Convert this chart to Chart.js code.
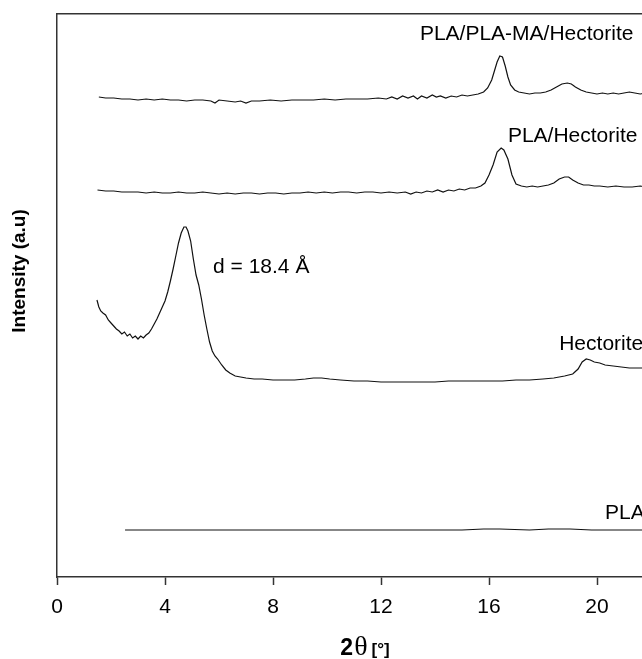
<!DOCTYPE html>
<html>
<head>
<meta charset="utf-8">
<title>XRD patterns</title>
<script src="https://cdn.jsdelivr.net/npm/chart.js@4.4.1/dist/chart.umd.min.js"></script>
<style>
    html, body { margin: 0; padding: 0; background: #fff; }
    #wrap { width: 642px; height: 659px; overflow: hidden; }
</style>
</head>
<body>
<div id="wrap">
    <canvas id="xrdChart" width="690" height="659"></canvas>
</div>
<script>
// 2-theta tick labels on the bottom axis
const tickAngles = [0, 4, 8, 12, 16, 20];

// PLA/PLA-MA/Hectorite
const plaMaAngle = [1.55, 1.8, 2.1, 2.4, 2.7, 3.0, 3.3, 3.6, 3.9, 4.2, 4.5, 4.8, 5.1, 5.4, 5.7, 5.85, 6.0, 6.3, 6.6, 6.8, 7.0, 7.2, 7.5, 7.9, 8.3, 8.7, 9.1, 9.5, 9.9, 10.3, 10.7, 11.1, 11.5, 11.9, 12.2, 12.4, 12.6, 12.8, 13.0, 13.2, 13.35, 13.5, 13.7, 13.9, 14.05, 14.2, 14.4, 14.6, 14.8, 15.0, 15.2, 15.4, 15.6, 15.8, 15.95, 16.1, 16.2, 16.3, 16.4, 16.5, 16.6, 16.7, 16.8, 16.95, 17.1, 17.3, 17.5, 17.7, 17.9, 18.1, 18.3, 18.5, 18.7, 18.9, 19.05, 19.2, 19.4, 19.6, 19.8, 20.0, 20.2, 20.4, 20.6, 20.8, 21.0, 21.2, 21.4, 21.6, 21.8];
const plaMaCounts = [480, 479, 479, 478, 478, 477, 478, 477, 478, 477, 477, 476, 477, 477, 476, 474, 477, 476, 475, 476, 474, 476, 476, 477, 476, 477, 477, 477, 478, 477, 478, 478, 478, 479, 478, 480, 478, 481, 479, 481, 478, 481, 479, 482, 480, 481, 479, 481, 480, 482, 481, 482, 483, 485, 489, 497, 506, 515, 521, 520, 511, 500, 492, 487, 485, 484, 483, 484, 484, 485, 487, 490, 493, 494, 493, 490, 487, 485, 484, 483, 484, 483, 484, 483, 484, 485, 484, 483, 484];

// PLA/Hectorite
const plaHecAngle = [1.5, 1.8, 2.1, 2.4, 2.7, 3.0, 3.3, 3.6, 3.9, 4.2, 4.5, 4.8, 5.1, 5.4, 5.7, 6.0, 6.3, 6.6, 6.9, 7.2, 7.5, 7.8, 8.1, 8.4, 8.7, 9.0, 9.3, 9.6, 9.9, 10.2, 10.5, 10.8, 11.1, 11.4, 11.7, 12.0, 12.3, 12.6, 12.9, 13.1, 13.3, 13.5, 13.7, 13.9, 14.1, 14.3, 14.5, 14.7, 14.9, 15.1, 15.3, 15.5, 15.7, 15.85, 16.0, 16.15, 16.3, 16.45, 16.55, 16.7, 16.85, 17.0, 17.2, 17.4, 17.6, 17.8, 18.0, 18.2, 18.4, 18.6, 18.8, 18.95, 19.1, 19.3, 19.5, 19.7, 19.9, 20.1, 20.4, 20.7, 21.0, 21.3, 21.6, 21.8];
const plaHecCounts = [387, 386, 386, 385, 385, 385, 384, 385, 384, 384, 385, 384, 384, 385, 384, 383, 384, 383, 384, 384, 383, 384, 384, 383, 384, 384, 385, 384, 385, 384, 385, 385, 384, 385, 385, 384, 385, 384, 385, 383, 385, 384, 386, 385, 387, 385, 387, 386, 388, 387, 389, 389, 391, 394, 402, 412, 425, 429, 427, 418, 402, 393, 391, 390, 391, 390, 391, 392, 394, 398, 400, 400, 397, 394, 392, 392, 391, 391, 390, 391, 390, 390, 391, 390];

// Hectorite
const hecAngle = [1.48, 1.55, 1.62, 1.7, 1.8, 1.9, 2.0, 2.1, 2.2, 2.3, 2.4, 2.5, 2.6, 2.7, 2.8, 2.9, 3.0, 3.1, 3.2, 3.3, 3.4, 3.5, 3.6, 3.7, 3.8, 3.9, 4.0, 4.1, 4.2, 4.3, 4.4, 4.5, 4.6, 4.7, 4.78, 4.85, 4.95, 5.05, 5.15, 5.25, 5.35, 5.45, 5.55, 5.65, 5.75, 5.85, 5.95, 6.1, 6.25, 6.4, 6.6, 6.8, 7.0, 7.3, 7.6, 8.0, 8.4, 8.8, 9.2, 9.5, 9.8, 10.1, 10.5, 11.0, 11.5, 12.0, 12.5, 13.0, 13.5, 14.0, 14.5, 15.0, 15.5, 16.0, 16.5, 17.0, 17.5, 18.0, 18.4, 18.8, 19.1, 19.3, 19.45, 19.6, 19.75, 19.9, 20.1, 20.3, 20.6, 20.9, 21.2, 21.5, 21.8];
const hecCounts = [277, 270, 266, 264, 262, 257, 254, 251, 248, 246, 243, 245, 241, 243, 239, 241, 238, 241, 239, 242, 244, 248, 253, 258, 264, 270, 276, 285, 296, 308, 321, 334, 344, 350, 350, 346, 336, 318, 302, 292, 278, 262, 248, 235, 226, 221, 218, 212, 207, 204, 201, 200, 199, 198, 198, 197, 197, 197, 198, 199, 199, 198, 197, 196, 196, 195, 195, 195, 195, 195, 196, 196, 196, 196, 196, 197, 197, 198, 199, 201, 203, 208, 215, 218, 217, 215, 214, 212, 211, 210, 209, 209, 209];

// PLA
const plaAngle = [2.52, 5.0, 10.0, 15.0, 15.8, 16.4, 17.5, 18.2, 19.0, 19.8, 21.8];
const plaCounts = [47, 47, 47, 47, 48, 48, 47, 48, 48, 47, 47];

// curve captions, placed in data coordinates
const captions = [
    { text: 'PLA/PLA-MA/Hectorite', x: 13.44, y: 537 },
    { text: 'PLA/Hectorite', x: 16.7, y: 435 },
    { text: 'd = 18.4 Å', x: 5.78, y: 304 },
    { text: 'Hectorite', x: 18.6, y: 227 },
    { text: 'PLA', x: 20.3, y: 58 }
];

const FONT = '"Liberation Sans", Arial, Helvetica, sans-serif';
const SERIF = '"Liberation Serif", "Times New Roman", serif';

function toPoints(xs, ys) {
    return xs.map((x, i) => ({ x: x, y: ys[i] }));
}

function series(label, xs, ys) {
    return {
        label: label,
        data: toPoints(xs, ys),
        borderColor: '#111',
        borderWidth: 1.2,
        pointRadius: 0,
        tension: 0,
        fill: false
    };
}

// Captions, the rotated y title and the mixed-font x title
const captionPlugin = {
    id: 'captions',
    afterDraw(chart) {
        const ctx = chart.ctx;
        const xs = chart.scales.x;
        const ys = chart.scales.y;
        ctx.save();
        ctx.fillStyle = '#000';
        ctx.font = '21px ' + FONT;
        ctx.textAlign = 'left';
        ctx.textBaseline = 'alphabetic';
        captions.forEach(c => {
            ctx.fillText(c.text, xs.getPixelForValue(c.x), ys.getPixelForValue(c.y));
        });

        // x title: "2θ [°]"
        const parts = [
            { t: '2', f: 'bold 23px ' + FONT, gap: 1 },
            { t: 'θ', f: '28px ' + SERIF, gap: 4 },
            { t: '[°]', f: 'bold 17px ' + FONT, gap: 0 }
        ];
        let total = 0;
        parts.forEach(p => { ctx.font = p.f; p.w = ctx.measureText(p.t).width; total += p.w + p.gap; });
        let px = 365 - total / 2;
        parts.forEach(p => {
            ctx.font = p.f;
            ctx.fillText(p.t, px, 655);
            px += p.w + p.gap;
        });

        ctx.translate(20, 271);
        ctx.rotate(-Math.PI / 2);
        ctx.textAlign = 'center';
        ctx.textBaseline = 'middle';
        ctx.font = 'bold 19px ' + FONT;
        ctx.fillText('Intensity (a.u)', 0, 0);
        ctx.restore();
    }
};

const ctx = document.getElementById('xrdChart').getContext('2d');
new Chart(ctx, {
    type: 'line',
    data: {
        datasets: [
            series('PLA/PLA-MA/Hectorite', plaMaAngle, plaMaCounts),
            series('PLA/Hectorite', plaHecAngle, plaHecCounts),
            series('Hectorite', hecAngle, hecCounts),
            series('PLA', plaAngle, plaCounts)
        ]
    },
    options: {
        responsive: false,
        animation: false,
        devicePixelRatio: 1,
        layout: { padding: { left: 0, top: 14, right: 12, bottom: 0 } },
        plugins: {
            legend: { display: false },
            tooltip: { enabled: false }
        },
        scales: {
            x: {
                type: 'linear',
                position: 'bottom',
                min: 0,
                max: 23,
                afterFit(s) { s.height = 82; },
                afterBuildTicks(s) { s.ticks = tickAngles.map(v => ({ value: v })); },
                ticks: {
                    color: '#000',
                    padding: 10,
                    font: { family: FONT, size: 21 }
                },
                grid: {
                    display: true,
                    drawOnChartArea: false,
                    drawTicks: true,
                    tickLength: 8,
                    tickWidth: 1.5,
                    tickColor: '#333'
                },
                border: { display: true, color: '#333', width: 1.5 }
            },
            xTop: {
                type: 'linear',
                position: 'top',
                min: 0,
                max: 23,
                afterFit(s) { s.height = 0; },
                ticks: { display: false },
                grid: { display: false },
                border: { display: true, color: '#333', width: 1.5 }
            },
            y: {
                type: 'linear',
                position: 'left',
                min: 0,
                max: 563,
                afterFit(s) { s.width = 57; },
                ticks: { display: false },
                grid: { display: false },
                border: { display: true, color: '#333', width: 1.5 }
            }
        }
    },
    plugins: [captionPlugin]
});
</script>
</body>
</html>
